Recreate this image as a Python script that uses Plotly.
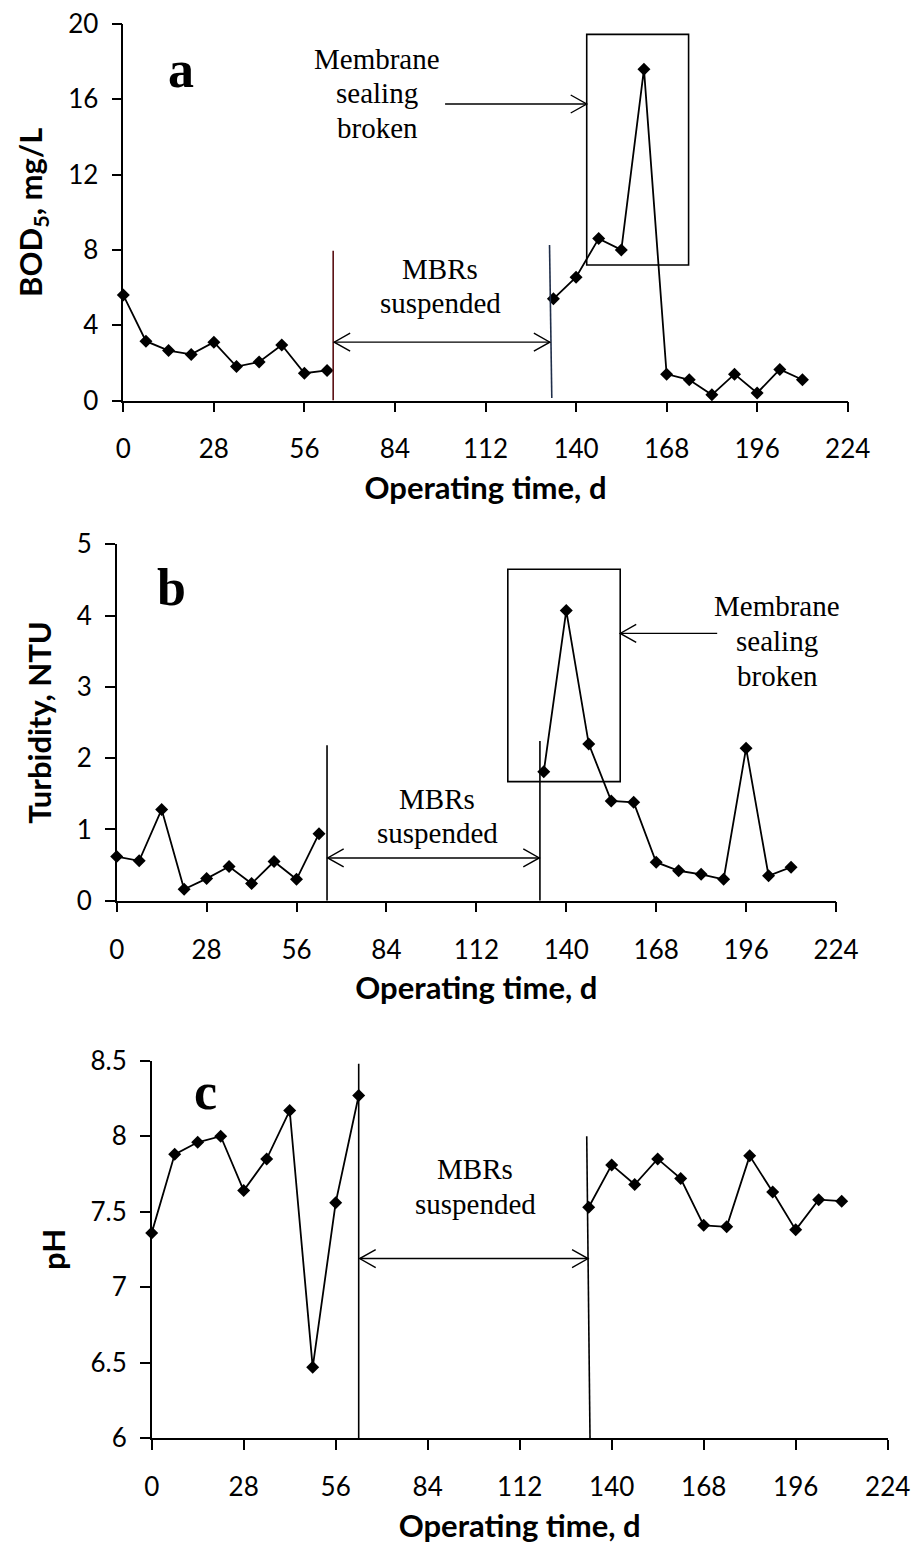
import plotly.graph_objects as go

W, H = 917, 1559

# ---------------- data ----------------
days_pre = [0, 7, 14, 21, 28, 35, 42, 49, 56, 63]
days_post = [133, 140, 147, 154, 161, 168, 175, 182, 189, 196, 203, 210]

bod_pre = [5.6, 3.15, 2.65, 2.45, 3.1, 1.8, 2.05, 2.95, 1.45, 1.6]
bod_post = [5.4, 6.55, 8.6, 8.0, 17.6, 1.4, 1.1, 0.3, 1.4, 0.4, 1.65, 1.1]

turb_pre = [0.62, 0.56, 1.28, 0.16, 0.31, 0.48, 0.24, 0.55, 0.30, 0.94]
turb_post = [1.81, 4.07, 2.2, 1.40, 1.38, 0.54, 0.42, 0.37, 0.30, 2.14, 0.35, 0.47]

ph_pre = [7.36, 7.88, 7.96, 8.0, 7.64, 7.85, 8.17, 6.47, 7.56, 8.27]
ph_post = [7.53, 7.81, 7.68, 7.85, 7.72, 7.41, 7.40, 7.87, 7.63, 7.38, 7.58, 7.57]

x_ticks = [0, 28, 56, 84, 112, 140, 168, 196, 224]
y_ranges = {"a": [0, 20], "b": [0, 5], "c": [6, 8.5]}
y_dticks = {"a": 4, "b": 1, "c": 0.5}
y_titles = {"a": "BOD<sub>5</sub>, mg/L", "b": "Turbidity, NTU", "c": "pH"}
x_title = "Operating time, d"

# ---------------- layout geometry (pixels) ----------------
geo = {
    "a": (123.3, 847.7, 24.0, 400.5),
    "b": (116.7, 836.0, 544.3, 900.7),
    "c": (151.7, 887.7, 1060.7, 1438.3),
}
axis_ids = {"a": ("x", "y"), "b": ("x2", "y2"), "c": ("x3", "y3")}

fig = go.Figure()

series = {
    "a": (bod_pre, bod_post),
    "b": (turb_pre, turb_post),
    "c": (ph_pre, ph_post),
}

for key, (pre, post) in series.items():
    xa, ya = axis_ids[key]
    for xs, ys in ((days_pre, pre), (days_post, post)):
        fig.add_trace(go.Scatter(
            x=xs, y=ys, mode="lines+markers",
            xaxis=xa, yaxis=ya,
            line=dict(color="black", width=1.8),
            marker=dict(symbol="diamond", size=10, color="black"),
            cliponaxis=False, showlegend=False, hoverinfo="x+y",
        ))

tick_font = dict(family="Lato, Carlito, Calibri, sans-serif", size=26, color="black")
title_font = dict(family="Lato, Carlito, Calibri, sans-serif", size=31, color="black", weight=700)

layout = dict(
    width=W, height=H,
    margin=dict(l=0, r=0, t=0, b=0),
    paper_bgcolor="white", plot_bgcolor="white",
    showlegend=False,
)

for i, key in enumerate(["a", "b", "c"]):
    l, r, t, b = geo[key]
    sfx = "" if i == 0 else str(i + 1)
    layout["xaxis" + sfx] = dict(
        domain=[l / W, r / W], anchor="y" + sfx,
        range=[0, 224], tickvals=x_ticks, ticktext=[str(v) for v in x_ticks],
        showline=True, linecolor="black", linewidth=1.5,
        ticks="outside", ticklen=10, tickwidth=1.5, tickcolor="black",
        showgrid=False, zeroline=False, tickfont=tick_font,
        ticklabelstandoff=15,
        title=dict(text="<b>" + x_title + "</b>", font=title_font, standoff=14),
        automargin=False,
    )
    layout["yaxis" + sfx] = dict(
        domain=[1 - b / H, 1 - t / H], anchor="x" + sfx,
        range=y_ranges[key], dtick=y_dticks[key], tick0=y_ranges[key][0],
        showline=True, linecolor="black", linewidth=1.5,
        ticks="outside", ticklen=10, tickwidth=1.5, tickcolor="black",
        showgrid=False, zeroline=False, tickfont=tick_font,
        ticklabelstandoff=8,
        title=dict(text="<b>" + y_titles[key] + "</b>", font=title_font, standoff=16),
        automargin=False,
    )

fig.update_layout(**layout)

# ---------------- annotations & shapes ----------------
serif = "Liberation Serif, Times New Roman, serif"
FS = 29


def paper(xpx, ypx):
    return xpx / W, 1 - ypx / H


def text_line(txt, xpx, baseline_px, size=FS, bold=False):
    x, y = paper(xpx, baseline_px - 0.30 * size)
    fig.add_annotation(
        x=x, y=y, xref="paper", yref="paper", text=txt, showarrow=False,
        xanchor="center", yanchor="middle",
        font=dict(family=serif, size=size, color="black", weight=700 if bold else 400),
    )


def vline(key, x0, y0, x1, y1, color="black", width=1.6):
    xa, ya = axis_ids[key]
    fig.add_shape(type="line", xref=xa, yref=ya, x0=x0, y0=y0, x1=x1, y1=y1,
                  line=dict(color=color, width=width), layer="above")


def arrowhead(key, x, y, direction):
    xa, ya = axis_ids[key]
    s = -1 if direction == "right" else 1
    path = f"M{s*16},9 L0,0 L{s*16},-9"
    fig.add_shape(type="path", xref=xa, yref=ya, xsizemode="pixel", ysizemode="pixel",
                  xanchor=x, yanchor=y, path=path,
                  line=dict(color="black", width=1.4), layer="above")


def rect(key, x0, y0, x1, y1):
    xa, ya = axis_ids[key]
    fig.add_shape(type="rect", xref=xa, yref=ya, x0=x0, y0=y0, x1=x1, y1=y1,
                  line=dict(color="black", width=1.6), fillcolor="rgba(0,0,0,0)", layer="above")


# ---- panel a ----
vline("a", 64.9, 0, 64.9, 7.95, color="#5a0f12")
vline("a", 132.5, 0.13, 131.8, 8.26, color="#1f2e4a")
vline("a", 65.2, 3.1, 131.9, 3.1, width=1.4)
arrowhead("a", 65.2, 3.1, "left")
arrowhead("a", 131.9, 3.1, "right")
rect("a", 143.3, 7.2, 174.8, 19.45)
vline("a", 99.5, 15.75, 143.3, 15.75, width=1.4)
arrowhead("a", 143.3, 15.75, "right")
text_line("MBRs", 440, 278)
text_line("suspended", 440, 312)
text_line("Membrane", 377, 68)
text_line("sealing", 377, 102)
text_line("broken", 377, 137)
text_line("a", 181, 85, size=52, bold=True)

# ---- panel b ----
vline("b", 65.5, 0, 65.5, 2.18)
vline("b", 131.8, 0, 131.8, 2.24)
vline("b", 65.7, 0.6, 131.6, 0.6, width=1.4)
arrowhead("b", 65.7, 0.6, "left")
arrowhead("b", 131.6, 0.6, "right")
rect("b", 121.8, 1.67, 156.8, 4.65)
vline("b", 156.8, 3.75, 187.0, 3.75, width=1.4)
arrowhead("b", 156.8, 3.75, "left")
text_line("MBRs", 437, 808)
text_line("suspended", 437, 842)
text_line("Membrane", 777, 615)
text_line("sealing", 777, 650)
text_line("broken", 777, 685)
text_line("b", 171, 603, size=52, bold=True)

# ---- panel c ----
vline("c", 63.0, 6, 63.0, 8.48)
vline("c", 133.4, 6, 132.4, 8.0)
vline("c", 63.3, 7.19, 132.8, 7.19, width=1.4)
arrowhead("c", 63.3, 7.19, "left")
arrowhead("c", 132.8, 7.19, "right")
text_line("MBRs", 475, 1178)
text_line("suspended", 475, 1213)
text_line("c", 205, 1107, size=52, bold=True)

fig.write_html("out.html")
